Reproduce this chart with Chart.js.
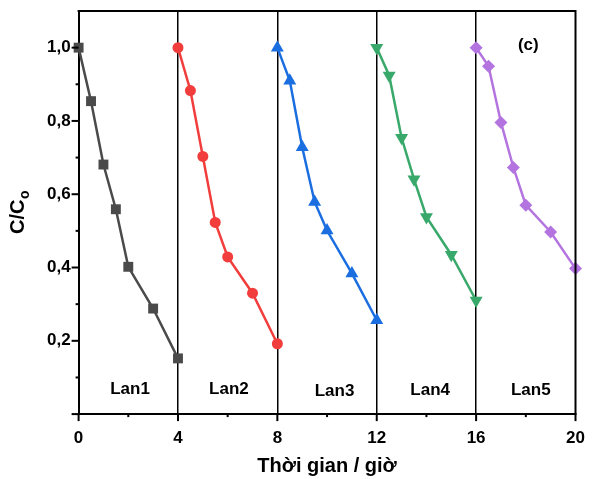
<!DOCTYPE html>
<html>
<head>
<meta charset="utf-8">
<script src="https://cdn.jsdelivr.net/npm/chart.js@4/dist/chart.umd.min.js"></script>
<style>
  html, body { margin: 0; padding: 0; background: #fff; }
  #wrap { width: 593px; height: 479px; }
</style>
</head>
<body>
<div id="wrap"><canvas id="c" width="593" height="479"></canvas></div>
<script>
// Five consecutive runs (Lan1..Lan5), 4 hours each, C/Co over time
const lan1X = [0, 0.5, 1, 1.5, 2, 3, 4];
const lan1Y = [1.0, 0.854, 0.681, 0.559, 0.402, 0.288, 0.152];
const lan2X = [4, 4.5, 5, 5.5, 6, 7, 8];
const lan2Y = [1.0, 0.883, 0.703, 0.523, 0.429, 0.330, 0.192];
const lan3X = [8, 8.5, 9, 9.5, 10, 11, 12];
const lan3Y = [1.0, 0.910, 0.728, 0.579, 0.501, 0.384, 0.256];
const lan4X = [12, 12.5, 13, 13.5, 14, 15, 16];
const lan4Y = [1.0, 0.924, 0.754, 0.641, 0.538, 0.435, 0.310];
const lan5X = [16, 16.5, 17, 17.5, 18, 19, 20];
const lan5Y = [1.0, 0.949, 0.796, 0.673, 0.570, 0.497, 0.397];

const runNames = ['Lan1', 'Lan2', 'Lan3', 'Lan4', 'Lan5'];
const xTickLabels = ['0', '4', '8', '12', '16', '20'];
const yTickLabels = ['0,2', '0,4', '0,6', '0,8', '1,0'];
const separators = [4, 8, 12, 16];

const FONT = '"Liberation Sans", Arial, Helvetica, sans-serif';

function pts(xs, ys) { return xs.map((x, i) => ({ x: x, y: ys[i] })); }

function series(label, xs, ys, color, style, radius, rotation) {
  return {
    label: label,
    data: pts(xs, ys),
    borderColor: color,
    backgroundColor: color,
    borderWidth: 2.5,
    pointStyle: style,
    pointRadius: radius,
    pointHoverRadius: radius,
    pointRotation: rotation || 0,
    pointBorderWidth: 0,
    showLine: true,
    tension: 0,
    clip: false
  };
}

// Axis tick marks, frame, run names and panel letter
const decorations = {
  id: 'decorations',
  afterDraw(chart) {
    const ctx = chart.ctx;
    const xs = chart.scales.x, ys = chart.scales.y;
    const a = chart.chartArea;
    ctx.save();
    ctx.strokeStyle = '#000';
    ctx.lineWidth = 2;
    // top and right frame
    ctx.beginPath();
    ctx.moveTo(a.left - 1, a.top);
    ctx.lineTo(a.right, a.top);
    ctx.lineTo(a.right, a.bottom);
    ctx.stroke();
    // x ticks: major every 4, minor every 2
    for (let v = 0; v <= 20; v += 2) {
      const px = xs.getPixelForValue(v);
      const len = (v % 4 === 0) ? 7 : 3;
      ctx.beginPath();
      ctx.moveTo(px, a.bottom);
      ctx.lineTo(px, a.bottom + len);
      ctx.stroke();
    }
    // y ticks: major every 0.2, minor every 0.1
    for (let k = 0; k <= 10; k++) {
      const py = ys.getPixelForValue(k / 10);
      const len = (k % 2 === 0) ? 7 : 3;
      ctx.beginPath();
      ctx.moveTo(a.left, py);
      ctx.lineTo(a.left - len, py);
      ctx.stroke();
    }
    // run names
    ctx.fillStyle = '#000';
    ctx.font = 'bold 17px ' + FONT;
    ctx.textAlign = 'center';
    ctx.textBaseline = 'middle';
    const nameX = [2.07, 6.05, 10.3, 14.15, 18.2];
    const nameY = [0.069, 0.069, 0.061, 0.066, 0.066];
    runNames.forEach((n, i) => {
      ctx.fillText(n, xs.getPixelForValue(nameX[i]), ys.getPixelForValue(nameY[i]));
    });
    ctx.fillText('(c)', xs.getPixelForValue(18.1), ys.getPixelForValue(1.006));
    // x title
    ctx.font = 'bold 20px ' + FONT;
    ctx.fillText('Thời gian / giờ', (a.left + a.right) / 2, 466);
    // y title C/Co with subscript
    ctx.translate(17, (a.top + a.bottom) / 2);
    ctx.rotate(-Math.PI / 2);
    const main = 'C/C';
    ctx.font = 'bold 20px ' + FONT;
    const w1 = ctx.measureText(main).width;
    ctx.font = 'bold 14px ' + FONT;
    const w2 = ctx.measureText('o').width;
    const start = -(w1 + w2) / 2;
    ctx.textAlign = 'left';
    ctx.textBaseline = 'alphabetic';
    ctx.font = 'bold 20px ' + FONT;
    ctx.fillText(main, start, 7);
    ctx.font = 'bold 14px ' + FONT;
    ctx.fillText('o', start + w1 + 0.5, 12);
    ctx.restore();
  }
};

new Chart(document.getElementById('c'), {
  type: 'scatter',
  data: {
    datasets: [
      series('Lan1', lan1X, lan1Y, '#4a4a4a', 'rect', 7),
      series('Lan2', lan2X, lan2Y, '#f23d3d', 'circle', 5.5),
      series('Lan3', lan3X, lan3Y, '#1b6ee0', 'triangle', 7.5),
      series('Lan4', lan4X, lan4Y, '#38a96a', 'triangle', 7.5, 180),
      series('Lan5', lan5X, lan5Y, '#b474e0', 'rectRot', 6.5)
    ]
  },
  options: {
    responsive: false,
    animation: false,
    events: [],
    layout: { padding: { top: 11, right: 17.5, left: 0, bottom: 0 } },
    plugins: { legend: { display: false }, tooltip: { enabled: false } },
    scales: {
      x: {
        type: 'linear',
        min: 0, max: 20,
        afterFit(s) {
          s.height = 64.9;
          s.paddingLeft = 0; s.paddingRight = 0;
        },
        ticks: {
          stepSize: 2,
          padding: 14,
          color: '#000',
          font: { family: FONT, size: 17, weight: 'bold' },
          maxRotation: 0,
          autoSkip: false,
          callback(v) {
            const i = xTickLabels.indexOf(String(v));
            return i >= 0 ? xTickLabels[i] : '';
          }
        },
        grid: {
          drawTicks: false,
          drawOnChartArea: true,
          lineWidth: 1.5,
          color(c) {
            return (c.tick && separators.includes(c.tick.value)) ? '#000' : 'rgba(0,0,0,0)';
          }
        },
        border: { display: true, color: '#000', width: 2 }
      },
      y: {
        type: 'linear',
        min: 0, max: 1.1,
        afterFit(s) {
          s.width = 78.6;
          s.paddingTop = 0; s.paddingBottom = 0;
        },
        ticks: {
          stepSize: 0.1,
          padding: 8,
          color: '#000',
          font: { family: FONT, size: 17, weight: 'bold' },
          autoSkip: false,
          callback(v) {
            const k = Math.round(v * 10);
            if (k % 2 !== 0 || k === 0 || k > 10) return '';
            return yTickLabels[k / 2 - 1];
          }
        },
        grid: { drawTicks: false, drawOnChartArea: false },
        border: { display: true, color: '#000', width: 2 }
      }
    }
  },
  plugins: [decorations]
});
</script>
</body>
</html>
